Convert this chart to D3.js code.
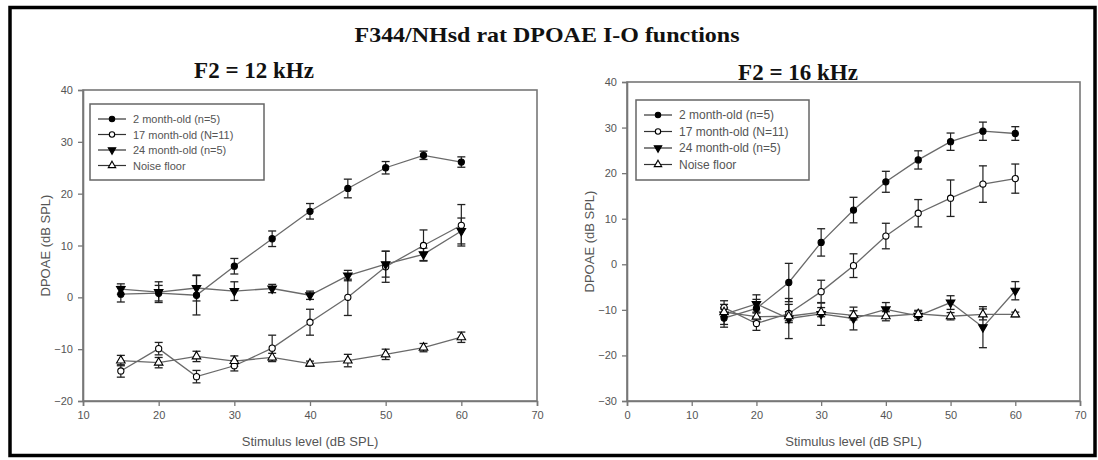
<!DOCTYPE html>
<html><head><meta charset="utf-8">
<script src="https://cdn.jsdelivr.net/npm/d3@7"></script>
<style>body{margin:0;background:#fff}svg{display:block}</style>
</head><body>
<script>
// ---- data ----
const levels = [15,20,25,30,35,40,45,50,55,60];
const seriesNames = ["2 month-old (n=5)","17 month-old (N=11)","24 month-old (n=5)","Noise floor"];
// F2 = 12 kHz
const k12_2mo   = [0.6, 0.8, 0.4, 6.0, 11.3, 16.6, 21.0, 25.0, 27.4, 26.1];
const k12_2moE  = [1.5, 1.5, 3.8, 1.5, 1.5, 1.5, 1.8, 1.2, 0.8, 1.0];
const k12_17mo  = [-14.2, -9.9, -15.3, -13.2, -9.8, -4.8, 0.0, 5.9, 10.0, 13.9];
const k12_17moE = [1.2, 1.2, 1.2, 1.0, 2.5, 2.5, 3.5, 3.0, 3.0, 4.0];
const k12_24mo  = [1.6, 1.0, 1.8, 1.2, 1.7, 0.4, 4.2, 6.4, 8.3, 12.8];
const k12_24moE = [1.0, 2.0, 2.5, 1.8, 0.8, 0.8, 1.0, 2.5, 1.2, 2.5];
const k12_nf    = [-12.2, -12.6, -11.4, -12.3, -11.6, -12.8, -12.2, -11.0, -9.7, -7.7];
const k12_nfE   = [1.0, 1.0, 1.0, 1.0, 0.8, 0.5, 1.2, 1.0, 0.8, 1.0];
// F2 = 16 kHz
const k16_2mo   = [-11.8, -9.7, -4.0, 4.8, 11.9, 18.1, 22.9, 26.9, 29.2, 28.7];
const k16_2moE  = [2.0, 2.0, 4.2, 3.0, 2.8, 2.3, 2.0, 1.9, 2.0, 1.5];
const k16_17mo  = [-9.5, -13.0, -10.8, -6.0, -0.3, 6.2, 11.2, 14.5, 17.6, 18.8];
const k16_17moE = [1.5, 1.5, 2.0, 2.5, 2.6, 2.8, 3.0, 4.0, 4.0, 3.2];
const k16_24mo  = [-11.0, -8.7, -11.9, -10.9, -11.9, -9.9, -11.3, -8.4, -13.8, -5.8];
const k16_24moE = [2.2, 2.0, 4.4, 2.5, 2.5, 1.5, 1.0, 1.5, 4.5, 2.0];
const k16_nf    = [-10.5, -11.5, -11.4, -10.5, -11.2, -11.4, -10.9, -11.4, -11.0, -11.0];
const k16_nfE   = [1.0, 1.0, 1.0, 1.0, 1.0, 1.0, 0.8, 0.8, 1.2, 0.5];
const xTicks12 = [10,20,30,40,50,60,70];
const yTicks12 = [-20,-10,0,10,20,30,40];
const xTicks16 = [0,10,20,30,40,50,60,70];
const yTicks16 = [-30,-20,-10,0,10,20,30,40];

const W = 1098, H = 460;
const svg = d3.select("body").append("svg").attr("width", W).attr("height", H);
svg.append("rect").attr("x",0).attr("y",0).attr("width",W).attr("height",H).attr("fill","#fff");

// outer frame
svg.append("rect").attr("x",10).attr("y",7.5).attr("width",1085).attr("height",448)
  .attr("fill","none").attr("stroke","#000").attr("stroke-width",3.5);

svg.append("text").attr("x",547).attr("y",42).attr("text-anchor","middle")
  .attr("font-family","Liberation Serif, Times New Roman, serif").attr("font-weight","bold")
  .attr("font-size",22).attr("textLength",385).attr("lengthAdjust","spacingAndGlyphs")
  .attr("fill","#111").text("F344/NHsd rat DPOAE I-O functions");

const markerKinds = ["fcircle","ocircle","dtri","otri"];
function sym(kind, s){
  if (kind==="fcircle"||kind==="ocircle") return d3.symbol(d3.symbolCircle, 30*s)();
  return d3.symbol(d3.symbolTriangle, 32*s)();
}
function drawMarker(g, kind, x, y, s){
  s = s || 1;
  const p = g.append("path").attr("d", sym(kind, s))
    .attr("transform", `translate(${x},${y})` + (kind==="dtri" ? " rotate(180)" : ""))
    .attr("stroke","#000").attr("stroke-width",1.1);
  p.attr("fill", (kind==="fcircle"||kind==="dtri") ? "#000" : "#fff");
}

function panel(opt){
  const g = svg.append("g");
  const x = d3.scaleLinear().domain(opt.xDom).range([opt.x0, opt.x1]);
  const y = d3.scaleLinear().domain(opt.yDom).range([opt.y1, opt.y0]);
  const axCol = "#777";
  // frame
  g.append("rect").attr("x",opt.x0).attr("y",opt.y0).attr("width",opt.x1-opt.x0).attr("height",opt.y1-opt.y0)
    .attr("fill","none").attr("stroke",axCol).attr("stroke-width",1.6);
  const ya = g.append("g").attr("transform",`translate(${opt.x0},0)`)
    .call(d3.axisLeft(y).tickValues(opt.yTicks).tickSize(5).tickPadding(5).tickFormat(d3.format("d")));
  const xa = g.append("g").attr("transform",`translate(0,${opt.y1})`)
    .call(d3.axisBottom(x).tickValues(opt.xTicks).tickSize(5).tickPadding(5).tickFormat(d3.format("d")));
  [ya,xa].forEach(a=>{
    a.select(".domain").attr("stroke",axCol).attr("stroke-width",1.6);
    a.selectAll(".tick line").attr("stroke",axCol).attr("stroke-width",1.3);
    a.selectAll(".tick text").attr("fill","#555").attr("font-family","Liberation Sans, Arial, sans-serif").attr("font-size",11);
  });
  // labels
  g.append("text").attr("x",(opt.x0+opt.x1)/2).attr("y",446).attr("text-anchor","middle")
    .attr("font-family","Liberation Sans, Arial, sans-serif").attr("font-size",13).attr("fill","#555")
    .text("Stimulus level (dB SPL)");
  g.append("text").attr("transform",`translate(${opt.x0-33},${(opt.y0+opt.y1)/2}) rotate(-90)`)
    .attr("text-anchor","middle")
    .attr("font-family","Liberation Sans, Arial, sans-serif").attr("font-size",13).attr("fill","#555")
    .text("DPOAE (dB SPL)");
  g.append("text").attr("x",opt.subX).attr("y",opt.subY).attr("text-anchor","middle")
    .attr("font-family","Liberation Serif, Times New Roman, serif").attr("font-weight","bold")
    .attr("font-size",23).attr("fill","#111").text(opt.sub);

  // series
  const line = d3.line().x((d)=>x(d[0])).y((d)=>y(d[1]));
  opt.series.forEach((s,i)=>{
    const pts = levels.map((l,j)=>[l, s.v[j], s.e[j]]);
    g.append("path").attr("d", line(pts)).attr("fill","none").attr("stroke","#6a6a6a").attr("stroke-width",1.3);
  });
  opt.series.forEach((s,i)=>{
    levels.forEach((l,j)=>{
      const cx = x(l), v = s.v[j], e = s.e[j];
      const yt = y(v+e), yb = y(v-e);
      g.append("line").attr("x1",cx).attr("x2",cx).attr("y1",yt).attr("y2",yb).attr("stroke","#222").attr("stroke-width",1.2);
      [yt,yb].forEach(yy=>g.append("line").attr("x1",cx-4).attr("x2",cx+4).attr("y1",yy).attr("y2",yy).attr("stroke","#222").attr("stroke-width",1.3));
    });
  });
  opt.series.forEach((s,i)=>{
    levels.forEach((l,j)=> drawMarker(g, markerKinds[i], x(l), y(s.v[j])));
  });

  // legend
  const L = opt.legend;
  g.append("rect").attr("x",L.x).attr("y",L.y).attr("width",L.w).attr("height",L.h)
    .attr("fill","#fff").attr("stroke","#666").attr("stroke-width",1.5);
  seriesNames.forEach((nm,i)=>{
    const yy = L.y + L.r0 + i*L.dy;
    g.append("line").attr("x1",L.x+8).attr("x2",L.x+36).attr("y1",yy).attr("y2",yy).attr("stroke","#333").attr("stroke-width",1.2);
    drawMarker(g, markerKinds[i], L.x+22, yy, 0.75);
    g.append("text").attr("x",L.x+43).attr("y",yy+4).attr("font-family","Liberation Sans, Arial, sans-serif")
      .attr("font-size",L.fs).attr("fill","#555").text(nm);
  });
}

panel({xDom:[10,70], yDom:[-20,40], x0:83, x1:537, y0:90, y1:401, xTicks:xTicks12, yTicks:yTicks12,
  sub:"F2 = 12 kHz", subX:254, subY:78,
  series:[{v:k12_2mo,e:k12_2moE},{v:k12_17mo,e:k12_17moE},{v:k12_24mo,e:k12_24moE},{v:k12_nf,e:k12_nfE}],
  legend:{x:90, y:104, w:174, h:76, r0:15, dy:15.5, fs:11}});
panel({xDom:[0,70], yDom:[-30,40], x0:627, x1:1080, y0:82, y1:401, xTicks:xTicks16, yTicks:yTicks16,
  sub:"F2 = 16 kHz", subX:798, subY:80,
  series:[{v:k16_2mo,e:k16_2moE},{v:k16_17mo,e:k16_17moE},{v:k16_24mo,e:k16_24moE},{v:k16_nf,e:k16_nfE}],
  legend:{x:636, y:100, w:173, h:80, r0:15, dy:16.5, fs:12}});
</script>
</body></html>
